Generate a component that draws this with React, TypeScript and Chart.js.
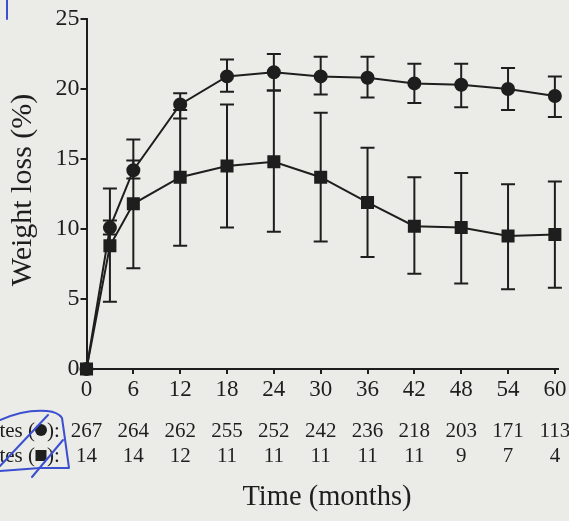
import React, { useEffect, useRef } from "react";
import { Chart, registerables } from "chart.js";

Chart.register(...registerables);

const months = [0, 3, 6, 12, 18, 24, 30, 36, 42, 48, 54, 60];
const nonDiabetes = [0, 10.1, 14.2, 18.9, 20.9, 21.2, 20.9, 20.8, 20.4, 20.3, 20.0, 19.5];
const nonDiabetesUpper = [0, 10.6, 16.4, 19.7, 22.1, 22.5, 22.3, 22.3, 21.8, 21.8, 21.5, 20.9];
const nonDiabetesLower = [0, 9.6, 13.6, 17.9, 19.8, 19.9, 19.6, 19.4, 19.0, 18.7, 18.5, 18.0];
const diabetes = [0, 8.8, 11.8, 13.7, 14.5, 14.8, 13.7, 11.9, 10.2, 10.1, 9.5, 9.6];
const diabetesUpper = [0, 12.9, 14.9, 18.5, 18.9, 19.9, 18.3, 15.8, 13.7, 14.0, 13.2, 13.4];
const diabetesLower = [0, 4.8, 7.2, 8.8, 10.1, 9.8, 9.1, 8.0, 6.8, 6.1, 5.7, 5.8];

const xTicks = [0, 6, 12, 18, 24, 30, 36, 42, 48, 54, 60];
const yTicks = [0, 5, 10, 15, 20, 25];
const countsNonDiabetes = [267, 264, 262, 255, 252, 242, 236, 218, 203, 171, 113];
const countsDiabetes = [14, 14, 12, 11, 11, 11, 11, 11, 9, 7, 4];
const rowLabelNon = "Non-diabetes (";
const rowLabelDia = "Diabetes (";
const rowLabelEnd = "):";
const xTitle = "Time (months)";
const yTitle = "Weight loss (%)";

const INK = "#1e1e1e";
const SERIF = "'Liberation Serif', 'Times New Roman', serif";

const errorBarPlugin = {
  id: "errorBars",
  beforeDatasetsDraw(chart: any) {
    const ctx = chart.ctx;
    const xs = chart.scales.x;
    const ys = chart.scales.y;
    const sets = [
      [nonDiabetesUpper, nonDiabetesLower],
      [diabetesUpper, diabetesLower],
    ];
    ctx.save();
    ctx.strokeStyle = INK;
    ctx.lineWidth = 2;
    sets.forEach(([up, lo]) => {
      months.forEach((m, i) => {
        if (up[i] === lo[i]) return;
        const x = xs.getPixelForValue(m);
        const y1 = ys.getPixelForValue(up[i]);
        const y2 = ys.getPixelForValue(lo[i]);
        ctx.beginPath();
        ctx.moveTo(x, y1);
        ctx.lineTo(x, y2);
        ctx.moveTo(x - 7, y1);
        ctx.lineTo(x + 7, y1);
        ctx.moveTo(x - 7, y2);
        ctx.lineTo(x + 7, y2);
        ctx.stroke();
      });
    });
    ctx.restore();
  },
};

const textPlugin = {
  id: "extraText",
  afterDraw(chart: any) {
    const ctx = chart.ctx;
    const xs = chart.scales.x;
    ctx.save();
    ctx.fillStyle = INK;
    ctx.textBaseline = "middle";
    ctx.font = `21px ${SERIF}`;
    ctx.textAlign = "center";
    xTicks.forEach((t, i) => {
      const x = xs.getPixelForValue(t);
      ctx.fillText(String(countsNonDiabetes[i]), x, 431);
      ctx.fillText(String(countsDiabetes[i]), x, 456);
    });
    ctx.textAlign = "right";
    ctx.fillText(rowLabelNon, 35, 431);
    ctx.fillText(rowLabelDia, 35, 456);
    ctx.textAlign = "left";
    ctx.fillText(rowLabelEnd, 47, 431);
    ctx.fillText(rowLabelEnd, 47, 456);
    ctx.beginPath();
    ctx.arc(41, 430, 6, 0, Math.PI * 2);
    ctx.fill();
    ctx.fillRect(35.5, 450, 11, 11);

    ctx.textAlign = "center";
    ctx.font = `28.5px ${SERIF}`;
    ctx.fillText(xTitle, 327, 498);

    ctx.save();
    ctx.translate(23, 190);
    ctx.rotate(-Math.PI / 2);
    ctx.font = `30px ${SERIF}`;
    ctx.fillText(yTitle, 0, 0);
    ctx.restore();

    // hand-drawn pen marks on the scanned figure
    ctx.strokeStyle = "#3b4fd0";
    ctx.lineWidth = 2;
    ctx.lineJoin = "round";
    ctx.lineCap = "round";
    ctx.beginPath();
    ctx.moveTo(7, 0);
    ctx.lineTo(7, 19);
    ctx.stroke();
    ctx.beginPath();
    ctx.moveTo(0, 420);
    ctx.quadraticCurveTo(25, 409, 47, 411);
    ctx.quadraticCurveTo(58, 412, 62, 418);
    ctx.lineTo(64, 432);
    ctx.lineTo(69, 468);
    ctx.lineTo(40, 468);
    ctx.lineTo(0, 471);
    ctx.stroke();
    ctx.beginPath();
    ctx.moveTo(0, 466);
    ctx.lineTo(48, 415);
    ctx.stroke();
    ctx.beginPath();
    ctx.moveTo(32, 477);
    ctx.lineTo(63, 440);
    ctx.stroke();
    ctx.restore();
  },
};

export default function App() {
  const ref = useRef<HTMLCanvasElement | null>(null);

  useEffect(() => {
    document.body.style.margin = "0";
    const canvas = ref.current;
    if (!canvas) return;
    const chart = new Chart(canvas, {
      type: "line",
      data: {
        datasets: [
          {
            label: "Non-diabetes",
            data: months.map((m, i) => ({ x: m, y: nonDiabetes[i] })),
            borderColor: INK,
            backgroundColor: INK,
            borderWidth: 2,
            pointStyle: "circle",
            pointRadius: 6,
            tension: 0,
            clip: false,
          },
          {
            label: "Diabetes",
            data: months.map((m, i) => ({ x: m, y: diabetes[i] })),
            borderColor: INK,
            backgroundColor: INK,
            borderWidth: 2,
            pointStyle: "rect",
            pointRadius: 7.8,
            tension: 0,
            clip: false,
          },
        ],
      },
      options: {
        responsive: false,
        animation: false,
        devicePixelRatio: 1,
        layout: { padding: { left: 0, right: 11, top: 19, bottom: 0 } },
        plugins: {
          legend: { display: false },
          tooltip: { enabled: false },
        },
        scales: {
          x: {
            type: "linear",
            min: 0,
            max: 60.4,
            afterBuildTicks: (s: any) => {
              s.ticks = xTicks.map((v) => ({ value: v }));
            },
            afterFit: (s: any) => {
              s.height = 152;
            },
            border: { display: true, color: INK, width: 2 },
            grid: {
              display: true,
              drawOnChartArea: false,
              drawTicks: true,
              tickLength: 5,
              color: INK,
              lineWidth: 2,
            },
            ticks: {
              color: INK,
              font: { family: SERIF, size: 23 },
              padding: 2,
              maxRotation: 0,
              autoSkip: false,
            },
          },
          y: {
            type: "linear",
            min: 0,
            max: 25,
            afterBuildTicks: (s: any) => {
              s.ticks = yTicks.map((v) => ({ value: v }));
            },
            afterFit: (s: any) => {
              s.width = 86.5;
            },
            border: { display: true, color: INK, width: 2 },
            grid: {
              display: true,
              drawOnChartArea: false,
              drawTicks: true,
              tickLength: 6,
              color: INK,
              lineWidth: 2,
            },
            ticks: {
              color: INK,
              font: { family: SERIF, size: 24 },
              padding: 1,
              autoSkip: false,
            },
          },
        },
      },
      plugins: [errorBarPlugin, textPlugin],
    });
    return () => chart.destroy();
  }, []);

  return (
    <div
      style={{
        position: "fixed",
        left: 0,
        top: 0,
        width: 569,
        height: 521,
        background: "#ebebe7",
        overflow: "hidden",
      }}
    >
      <canvas ref={ref} width={569} height={521} />
    </div>
  );
}
